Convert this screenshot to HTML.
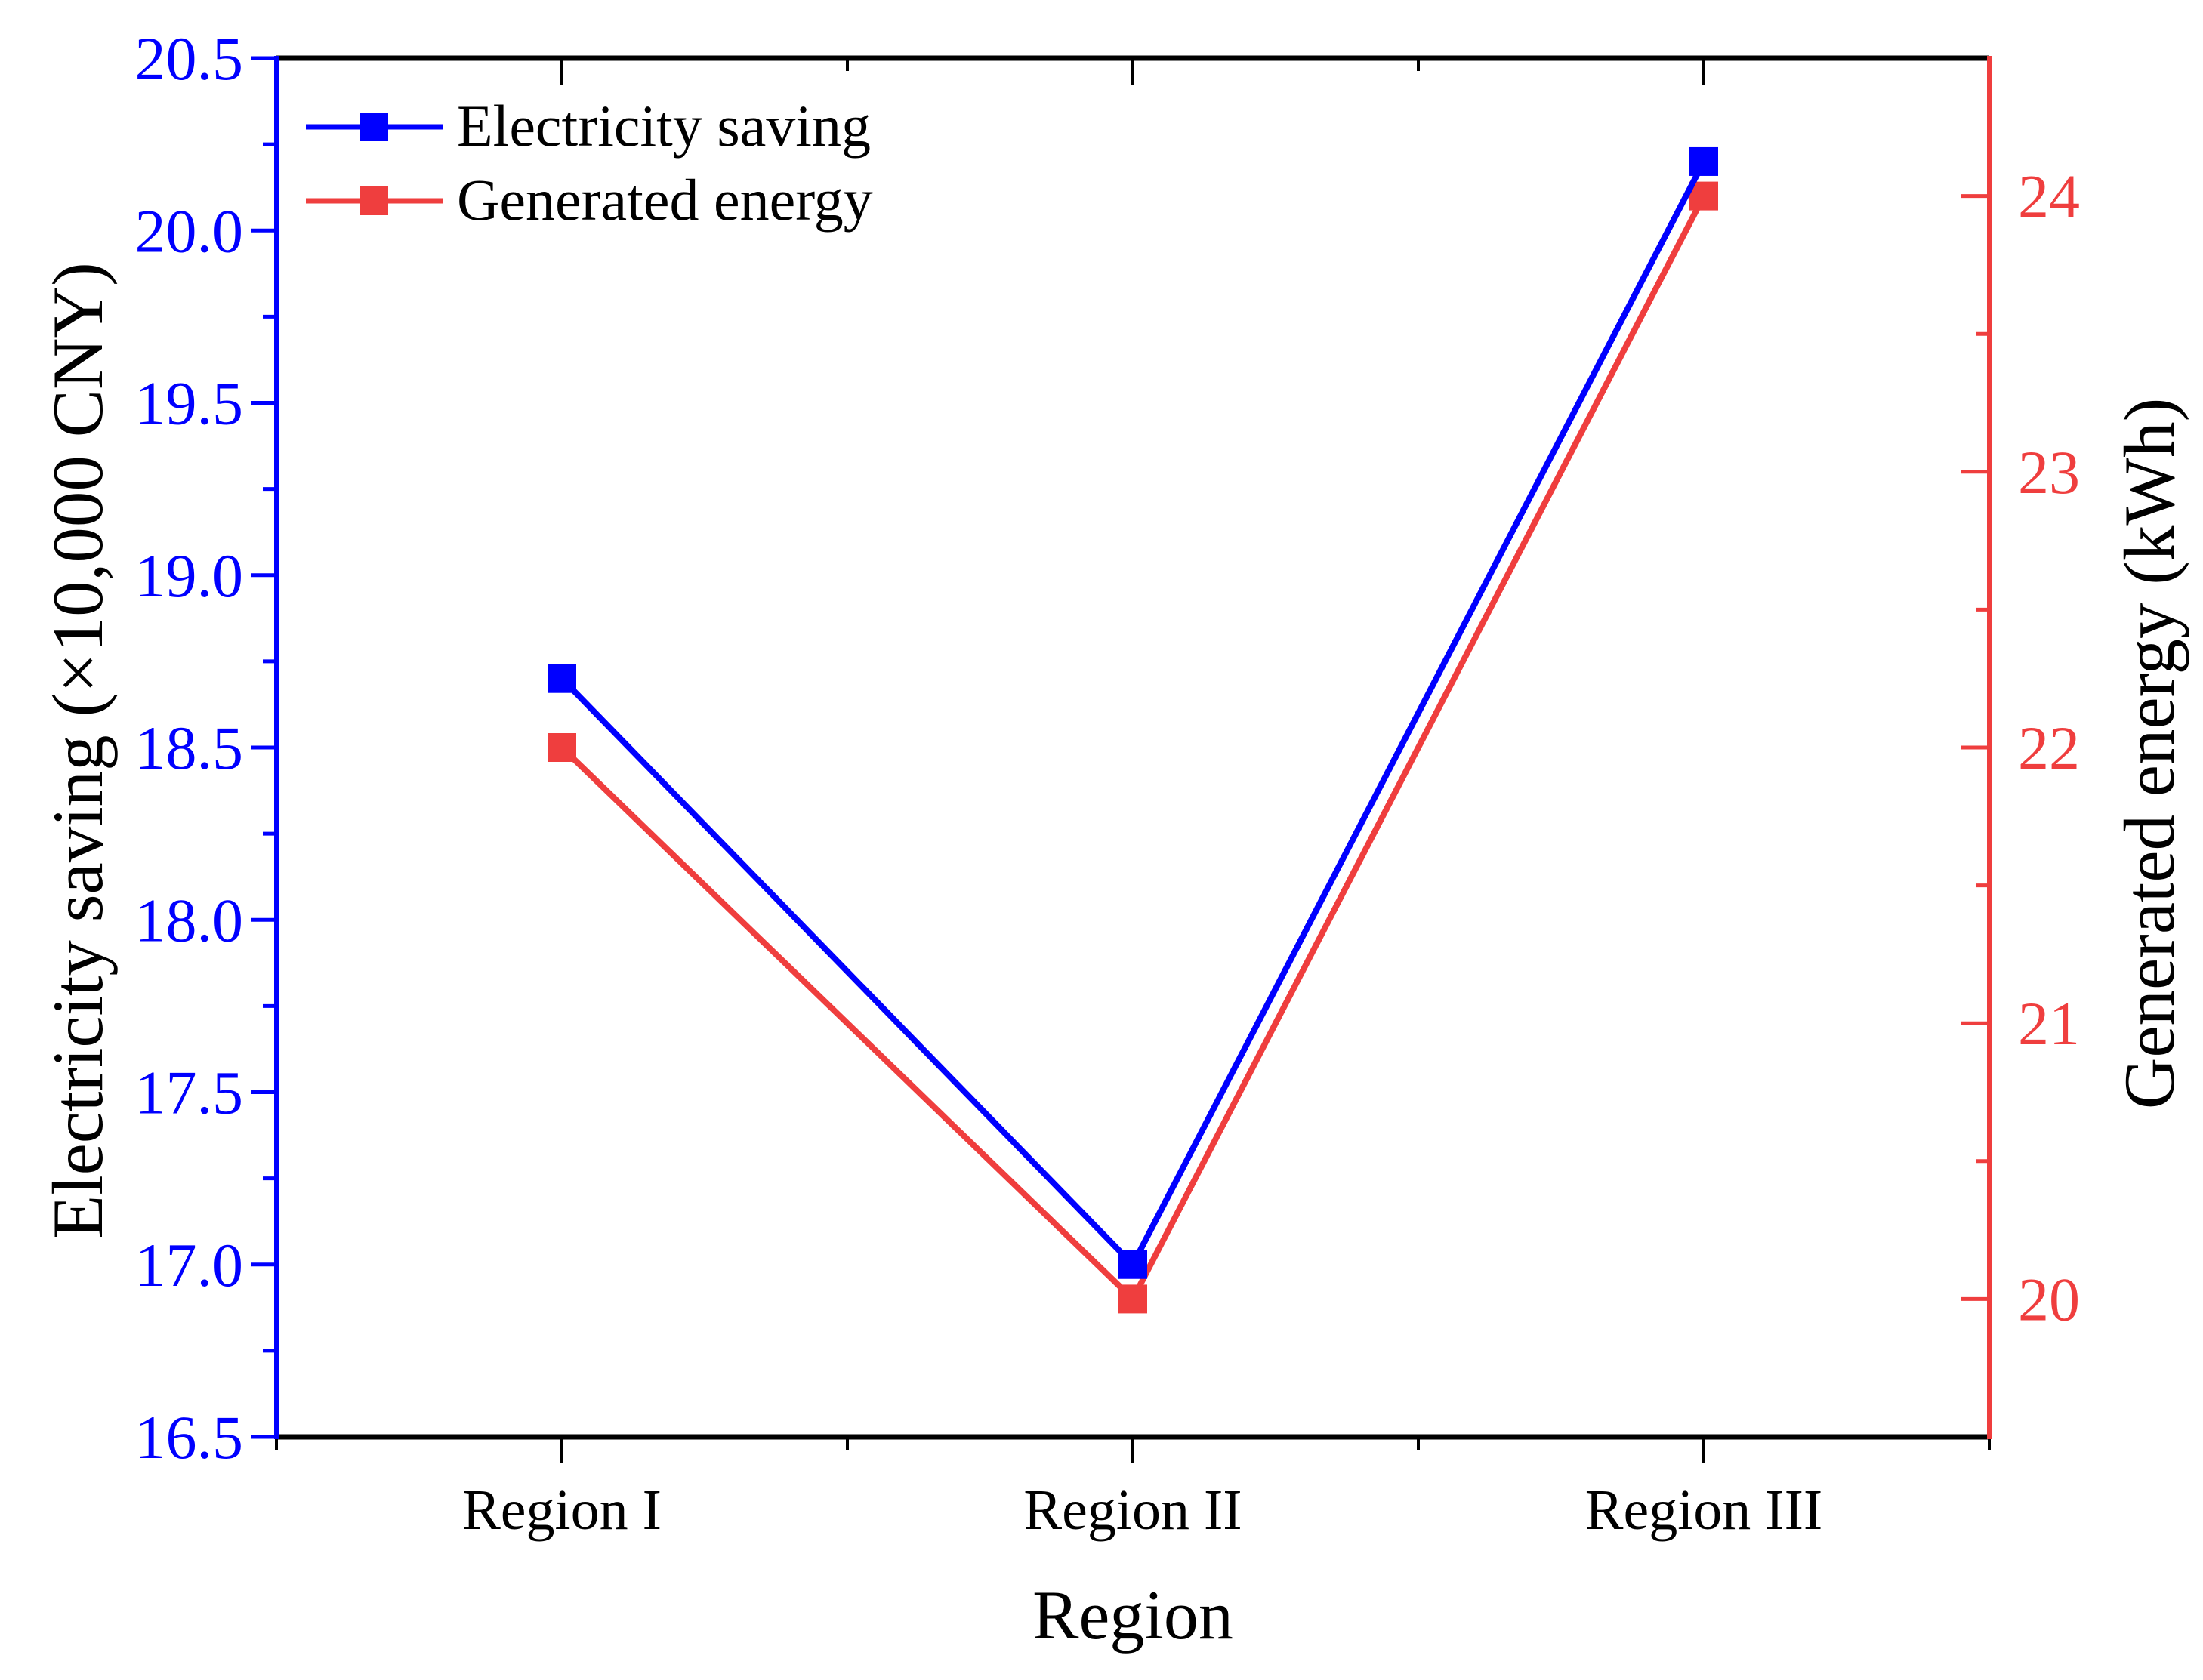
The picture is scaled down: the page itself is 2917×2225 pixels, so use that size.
<!DOCTYPE html>
<html><head><meta charset="utf-8"><style>
html,body{margin:0;padding:0;background:#fff}
svg{display:block;font-family:"Liberation Serif",serif}
</style></head><body>
<svg id="chart" width="2917" height="2225" viewBox="0 0 2917 2225" xmlns="http://www.w3.org/2000/svg">
<g id="frame"></g>
<g id="series"></g>
<g id="legend">
  <line x1="405" y1="168" x2="587" y2="168" stroke="#0000ff" stroke-width="7"/>
  <rect x="477" y="149" width="37" height="38" fill="#0000ff"/>
  <text x="605" y="193" font-size="78">Electricity saving</text>
  <line x1="405" y1="266" x2="587" y2="266" stroke="#ef3e3e" stroke-width="7"/>
  <rect x="477" y="247" width="37" height="38" fill="#ef3e3e"/>
  <text x="605" y="291" font-size="78">Generated energy</text>
</g>
<text x="1500" y="2170" font-size="92" text-anchor="middle">Region</text>
<text transform="translate(135,994) rotate(-90)" font-size="95" text-anchor="middle">Electricity saving (×10,000 CNY)</text>
<text transform="translate(2878,998) rotate(-90)" font-size="95" text-anchor="middle">Generated energy (kWh)</text>
</svg>
<script>
const categories = ["Region I", "Region II", "Region III"];
const electricitySaving = [18.7, 17.0, 20.2];
const generatedEnergy = [22, 20, 24];
const leftTicks = ["16.5","17.0","17.5","18.0","18.5","19.0","19.5","20.0","20.5"];
const rightTicks = ["20","21","22","23","24"];

const NS = "http://www.w3.org/2000/svg";
const X0 = 366, X1 = 2634, Y0 = 77, Y1 = 1903;
const BLUE = "#0000ff", RED = "#ef3e3e";
function xScale(i){ return X0 + (i + 0.5) * (X1 - X0) / 3; }
function yLeft(v){ return Y1 - (v - 16.5) / 4 * (Y1 - Y0); }
function yRight(v){ return Y1 - (v - 19.5) / 5 * (Y1 - Y0); }
function mk(tag, attrs, parent){
  const e = document.createElementNS(NS, tag);
  for (const k in attrs) e.setAttribute(k, attrs[k]);
  parent.appendChild(e);
  return e;
}
const frame = document.getElementById("frame");
const seriesLayer = document.getElementById("series");

leftTicks.forEach((t, i) => {
  const v = parseFloat(t), y = yLeft(v);
  const tk = mk("line", {x1: X0 - 34, y1: y, x2: X0, y2: y, stroke: BLUE, "stroke-width": 5}, frame);
  
  
  const lb = mk("text", {x: X0 - 44, y: y + 28, "font-size": 82, fill: BLUE, "text-anchor": "end"}, frame);
  lb.textContent = t;
  
  
  if (i < leftTicks.length - 1) {
    const ym = yLeft(v + 0.25);
    const mn = mk("line", {x1: X0 - 18, y1: ym, x2: X0, y2: ym, stroke: BLUE, "stroke-width": 5}, frame);
    
    
  }
});
for (let v = 19.5; v <= 24.51; v += 0.5) {
  const y = yRight(v);
  const major = Math.abs(v - Math.round(v)) < 0.01;
  const tk = mk("line", {x1: X1 - (major ? 37 : 18), y1: y, x2: X1, y2: y, stroke: RED, "stroke-width": 5}, frame);
  
  
}
rightTicks.forEach(t => {
  const y = yRight(parseFloat(t));
  const lb = mk("text", {x: X1 + 38, y: y + 28, "font-size": 82, fill: RED}, frame);
  lb.textContent = t;
  
  
});
for (let k = 0; k <= 6; k++) {
  const x = X0 + k * (X1 - X0) / 6;
  const major = k % 2 === 1;
  const len = major ? 35 : 17;
  const b = mk("line", {x1: x, y1: Y1, x2: x, y2: Y1 + len, stroke: "#000", "stroke-width": 4}, frame);
  
  
  const t = mk("line", {x1: x, y1: Y0, x2: x, y2: Y0 + len, stroke: "#000", "stroke-width": 4}, frame);
  
  
}
categories.forEach((c, i) => {
  const lb = mk("text", {x: xScale(i), y: 2025, "font-size": 76, "text-anchor": "middle"}, frame);
  lb.textContent = c;
  
  
});
const topAxis = mk("line", {x1: X0, y1: Y0, x2: X1, y2: Y0, stroke: "#000", "stroke-width": 7}, frame);


const botAxis = mk("line", {x1: X0, y1: Y1, x2: X1, y2: Y1, stroke: "#000", "stroke-width": 7}, frame);


const leftAxis = mk("line", {x1: X0, y1: Y0 - 3, x2: X0, y2: Y1 + 3, stroke: BLUE, "stroke-width": 6}, frame);


const rightAxis = mk("line", {x1: X1, y1: Y0 - 3, x2: X1, y2: Y1 + 3, stroke: RED, "stroke-width": 6}, frame);



function drawSeries(vals, yf, color, name){
  const pts = vals.map((v, i) => xScale(i) + "," + yf(v)).join(" ");
  const pl = mk("polyline", {points: pts, fill: "none", stroke: color, "stroke-width": 8}, seriesLayer);
  
  
  vals.forEach((v, i) => {
    const r = mk("rect", {x: xScale(i) - 19, y: yf(v) - 19, width: 38, height: 38, fill: color}, seriesLayer);
    
    
  });
}
drawSeries(generatedEnergy, yRight, RED, 'generated-energy');
drawSeries(electricitySaving, yLeft, BLUE, 'electricity-saving');
</script>
</body></html>
